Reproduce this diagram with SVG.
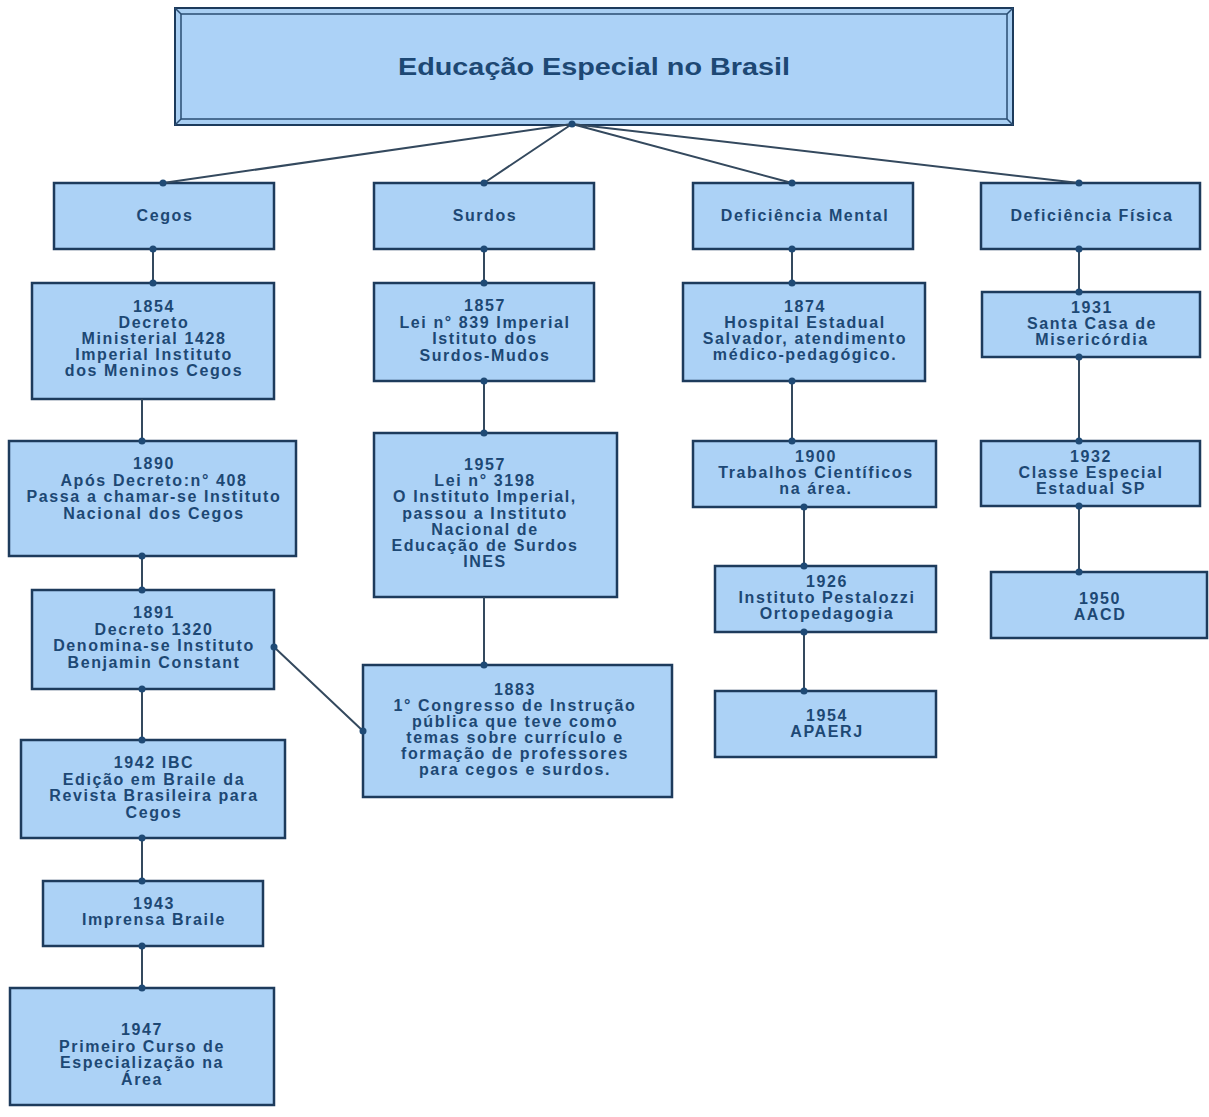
<svg xmlns="http://www.w3.org/2000/svg" width="1209" height="1117" viewBox="0 0 1209 1117">
<style>
.box{fill:#acd2f6;stroke:#1d3b5c;stroke-width:2.5}
.t{font-family:"Liberation Sans",Arial,sans-serif;font-weight:bold;font-size:16px;fill:#1d4874;text-anchor:middle;letter-spacing:1.6px}
.title{font-family:"Liberation Sans",Arial,sans-serif;font-weight:bold;font-size:24px;fill:#1d4874;text-anchor:middle}
.c{stroke:#34495e;stroke-width:2;fill:none}
.d{fill:#1f4a75}
</style>
<rect width="1209" height="1117" fill="#ffffff"/>
<g id="nodes">
<g id="title">
<rect x="175" y="8" width="838" height="117" fill="#a9cff3" stroke="#1d3b5c" stroke-width="2"/>
<rect x="181" y="14" width="826" height="105" fill="#acd2f7" stroke="#2a4d73" stroke-width="1.5"/>
<path d="M175 8L181 14M1013 8L1007 14M175 125L181 119M1013 125L1007 119" stroke="#2a4d73" stroke-width="1.5"/>
<text class="title" transform="translate(594 75) scale(1.2 1)">Educação Especial no Brasil</text>
</g>
<g id="cegos"><rect class="box" x="54" y="183" width="220" height="66"/><text class="t" x="165" y="221">Cegos</text></g>
<g id="surdos"><rect class="box" x="374" y="183" width="220" height="66"/><text class="t" x="485" y="221">Surdos</text></g>
<g id="def-mental"><rect class="box" x="693" y="183" width="220" height="66"/><text class="t" x="805" y="221">Deficiência Mental</text></g>
<g id="def-fisica"><rect class="box" x="981" y="183" width="219" height="66"/><text class="t" x="1092" y="221">Deficiência Física</text></g>

<g id="c1854"><rect class="box" x="32" y="283" width="242" height="116"/>
<text class="t" x="154" y="312">1854</text><text class="t" x="154" y="328">Decreto</text><text class="t" x="154" y="344">Ministerial 1428</text><text class="t" x="154" y="360">Imperial Instituto</text><text class="t" x="154" y="376">dos Meninos Cegos</text></g>
<g id="c1890"><rect class="box" x="9" y="441" width="287" height="115"/>
<text class="t" x="154" y="469">1890</text><text class="t" x="154" y="485.5">Após Decreto:n° 408</text><text class="t" x="154" y="502">Passa a chamar-se Instituto</text><text class="t" x="154" y="518.5">Nacional dos Cegos</text></g>
<g id="c1891"><rect class="box" x="32" y="590" width="242" height="99"/>
<text class="t" x="154" y="618">1891</text><text class="t" x="154" y="634.5">Decreto 1320</text><text class="t" x="154" y="651">Denomina-se Instituto</text><text class="t" x="154" y="667.5">Benjamin Constant</text></g>
<g id="c1942"><rect class="box" x="21" y="740" width="264" height="98"/>
<text class="t" x="154" y="768">1942 IBC</text><text class="t" x="154" y="784.5">Edição em Braile da</text><text class="t" x="154" y="801">Revista Brasileira para</text><text class="t" x="154" y="817.5">Cegos</text></g>
<g id="c1943"><rect class="box" x="43" y="881" width="220" height="65"/>
<text class="t" x="154" y="908.5">1943</text><text class="t" x="154" y="925">Imprensa Braile</text></g>
<g id="c1947"><rect class="box" x="10" y="988" width="264" height="117"/>
<text class="t" x="142" y="1035">1947</text><text class="t" x="142" y="1051.5">Primeiro Curso de</text><text class="t" x="142" y="1068">Especialização na</text><text class="t" x="142" y="1084.5">Área</text></g>

<g id="s1857"><rect class="box" x="374" y="283" width="220" height="98"/>
<text class="t" x="485" y="311">1857</text><text class="t" x="485" y="327.5">Lei n° 839 Imperial</text><text class="t" x="485" y="344">Istituto dos</text><text class="t" x="485" y="360.5">Surdos-Mudos</text></g>
<g id="s1957"><rect class="box" x="374" y="433" width="243" height="164"/>
<text class="t" x="485" y="470">1957</text><text class="t" x="485" y="486.2">Lei n° 3198</text><text class="t" x="485" y="502.4">O Instituto Imperial,</text><text class="t" x="485" y="518.6">passou a Instituto</text><text class="t" x="485" y="534.8">Nacional de</text><text class="t" x="485" y="551">Educação de Surdos</text><text class="t" x="485" y="567.2">INES</text></g>
<g id="s1883"><rect class="box" x="363" y="665" width="309" height="132"/>
<text class="t" x="515" y="695">1883</text><text class="t" x="515" y="711">1° Congresso de Instrução</text><text class="t" x="515" y="727">pública que teve como</text><text class="t" x="515" y="743">temas sobre currículo e</text><text class="t" x="515" y="759">formação de professores</text><text class="t" x="515" y="775">para cegos e surdos.</text></g>

<g id="m1874"><rect class="box" x="683" y="283" width="242" height="98"/>
<text class="t" x="805" y="312">1874</text><text class="t" x="805" y="328">Hospital Estadual</text><text class="t" x="805" y="344">Salvador, atendimento</text><text class="t" x="805" y="360">médico-pedagógico.</text></g>
<g id="m1900"><rect class="box" x="693" y="441" width="243" height="66"/>
<text class="t" x="816" y="461.5">1900</text><text class="t" x="816" y="477.7">Trabalhos Científicos</text><text class="t" x="816" y="494">na área.</text></g>
<g id="m1926"><rect class="box" x="715" y="566" width="221" height="66"/>
<text class="t" x="827" y="587">1926</text><text class="t" x="827" y="603">Instituto Pestalozzi</text><text class="t" x="827" y="619">Ortopedagogia</text></g>
<g id="m1954"><rect class="box" x="715" y="691" width="221" height="66"/>
<text class="t" x="827" y="721">1954</text><text class="t" x="827" y="737">APAERJ</text></g>

<g id="f1931"><rect class="box" x="982" y="292" width="218" height="65"/>
<text class="t" x="1092" y="313">1931</text><text class="t" x="1092" y="329">Santa Casa de</text><text class="t" x="1092" y="345">Misericórdia</text></g>
<g id="f1932"><rect class="box" x="981" y="441" width="219" height="65"/>
<text class="t" x="1091" y="461.5">1932</text><text class="t" x="1091" y="477.7">Classe Especial</text><text class="t" x="1091" y="494">Estadual SP</text></g>
<g id="f1950"><rect class="box" x="991" y="572" width="216" height="66"/>
<text class="t" x="1100" y="604">1950</text><text class="t" x="1100" y="620">AACD</text></g>
</g>
<g id="connectors">
<path class="c" d="M572 124L163 183M572 124L484 183M572 124L792 183M572 124L1079 183"/>
<path class="c" d="M153 249V283M142 399V441M142 556V590M142 689V740M142 838V881M142 946V988M274 647L363 731"/>
<path class="c" d="M484 249V283M484 381V433M484 597V665"/>
<path class="c" d="M792 249V283M792 381V441M804 507V566M804 632V691"/>
<path class="c" d="M1079 249V292M1079 357V441M1079 506V572"/>
<g class="d">
<circle cx="572" cy="124" r="3.5"/><circle cx="163" cy="183" r="3.5"/><circle cx="484" cy="183" r="3.5"/><circle cx="792" cy="183" r="3.5"/><circle cx="1079" cy="183" r="3.5"/>
<circle cx="153" cy="249" r="3.5"/><circle cx="153" cy="283" r="3.5"/><circle cx="142" cy="441" r="3.5"/><circle cx="142" cy="556" r="3.5"/><circle cx="142" cy="590" r="3.5"/><circle cx="142" cy="689" r="3.5"/><circle cx="142" cy="740" r="3.5"/><circle cx="142" cy="838" r="3.5"/><circle cx="142" cy="881" r="3.5"/><circle cx="142" cy="946" r="3.5"/><circle cx="142" cy="988" r="3.5"/><circle cx="274" cy="647" r="3.5"/><circle cx="363" cy="731" r="3.5"/>
<circle cx="484" cy="249" r="3.5"/><circle cx="484" cy="283" r="3.5"/><circle cx="484" cy="381" r="3.5"/><circle cx="484" cy="433" r="3.5"/><circle cx="484" cy="665" r="3.5"/>
<circle cx="792" cy="249" r="3.5"/><circle cx="792" cy="283" r="3.5"/><circle cx="792" cy="381" r="3.5"/><circle cx="792" cy="441" r="3.5"/><circle cx="804" cy="507" r="3.5"/><circle cx="804" cy="566" r="3.5"/><circle cx="804" cy="632" r="3.5"/><circle cx="804" cy="691" r="3.5"/>
<circle cx="1079" cy="249" r="3.5"/><circle cx="1079" cy="292" r="3.5"/><circle cx="1079" cy="357" r="3.5"/><circle cx="1079" cy="441" r="3.5"/><circle cx="1079" cy="506" r="3.5"/><circle cx="1079" cy="572" r="3.5"/>
</g>
</g>
</svg>
